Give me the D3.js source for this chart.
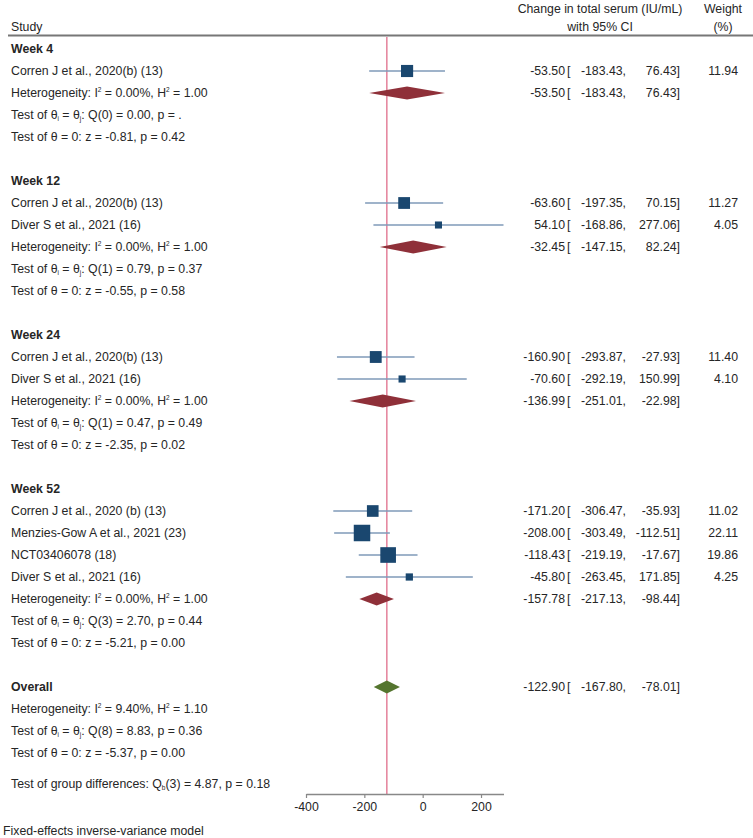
<!DOCTYPE html>
<html>
<head>
<meta charset="utf-8" />
<script src="https://cdn.jsdelivr.net/npm/d3@7"></script>
<style>
html, body { margin: 0; padding: 0; background: #fff; }
svg text { font-family: "Liberation Sans", Arial, sans-serif; font-size: 12.3px; fill: #262626; }
.bold { font-weight: bold; }
</style>
</head>
<body>
<div id="chart"></div>
<script>
// study level data
var groups = ["Week 4", "Week 12", "Week 24", "Week 52"];
var studyGroup = [0, 1, 1, 2, 2, 3, 3, 3, 3];
var studyLabels = ["Corren J et al., 2020(b) (13)",
  "Corren J et al., 2020(b) (13)", "Diver S et al., 2021 (16)",
  "Corren J et al., 2020(b) (13)", "Diver S et al., 2021 (16)",
  "Corren J et al., 2020 (b) (13)", "Menzies-Gow A et al., 2021 (23)", "NCT03406078 (18)", "Diver S et al., 2021 (16)"];
var est = [-53.50, -63.60, 54.10, -160.90, -70.60, -171.20, -208.00, -118.43, -45.80];
var lo = [-183.43, -197.35, -168.86, -293.87, -292.19, -306.47, -303.49, -219.19, -263.45];
var hi = [76.43, 70.15, 277.06, -27.93, 150.99, -35.93, -112.51, -17.67, 171.85];
var weight = [11.94, 11.27, 4.05, 11.40, 4.10, 11.02, 22.11, 19.86, 4.25];

// subgroup summaries
var sumEst = [-53.50, -32.45, -136.99, -157.78];
var sumLo = [-183.43, -147.15, -251.01, -217.13];
var sumHi = [76.43, 82.24, -22.98, -98.44];
var hetI2 = ["0.00%", "0.00%", "0.00%", "0.00%"];
var hetH2 = ["1.00", "1.00", "1.00", "1.00"];
var qTest = ["Q(0) = 0.00, p = .", "Q(1) = 0.79, p = 0.37", "Q(1) = 0.47, p = 0.49", "Q(3) = 2.70, p = 0.44"];
var zTest = ["z = -0.81, p = 0.42", "z = -0.55, p = 0.58", "z = -2.35, p = 0.02", "z = -5.21, p = 0.00"];

// overall
var overall = { est: -122.90, lo: -167.80, hi: -78.01, i2: "9.40%", h2: "1.10",
  q: "Q(8) = 8.83, p = 0.36", z: "z = -5.37, p = 0.00" };
var groupDiff = "(3) = 4.87, p = 0.18";

var xTicks = [-400, -200, 0, 200];

var width = 753, height = 838;
var svg = d3.select("#chart").append("svg")
  .attr("width", width).attr("height", height);

var x = d3.scaleLinear().domain([-400, 277.06]).range([306, 503.5]);
var sq = d3.scaleSqrt().domain([0, 22.11]).range([0, 16.5]);

var rowY = function(i) { return 49 + i * 22; };
var fmt = function(v) { return v.toFixed(2); };

// build rows
var rows = [];
var r = 0;
groups.forEach(function(g, gi) {
  rows.push({ type: "head", text: g, y: rowY(r++) });
  studyGroup.forEach(function(sg, si) {
    if (sg === gi) rows.push({ type: "study", i: si, y: rowY(r++) });
  });
  rows.push({ type: "het", i2: hetI2[gi], h2: hetH2[gi], y: rowY(r++), sum: gi });
  rows.push({ type: "q", text: qTest[gi], y: rowY(r++) });
  rows.push({ type: "z", text: zTest[gi], y: rowY(r++) });
  r++;
});
var overallY = rowY(r);
rows.push({ type: "head", text: "Overall", y: rowY(r++) });
rows.push({ type: "het", i2: overall.i2, h2: overall.h2, y: rowY(r++) });
rows.push({ type: "q", text: overall.q, y: rowY(r++) });
rows.push({ type: "z", text: overall.z, y: rowY(r++) });

// header
svg.append("text").attr("x", 11).attr("y", 27).attr("dy", "0.35em").text("Study");
svg.append("text").attr("x", 600).attr("y", 9).attr("dy", "0.35em").attr("text-anchor", "middle").text("Change in total serum (IU/mL)");
svg.append("text").attr("x", 600).attr("y", 27).attr("dy", "0.35em").attr("text-anchor", "middle").text("with 95% CI");
svg.append("text").attr("x", 723).attr("y", 9).attr("dy", "0.35em").attr("text-anchor", "middle").text("Weight");
svg.append("text").attr("x", 723).attr("y", 27).attr("dy", "0.35em").attr("text-anchor", "middle").text("(%)");
svg.append("line").attr("x1", 8).attr("x2", 753).attr("y1", 35.5).attr("y2", 35.5)
  .attr("stroke", "#777").attr("stroke-width", 2);

// reference line at overall effect
var axisY = 794;
svg.append("line").attr("x1", x(overall.est)).attr("x2", x(overall.est))
  .attr("y1", 37).attr("y2", axisY).attr("stroke", "#e4809a").attr("stroke-width", 1.5);

function ciText(y, e, l, h, w) {
  var g = svg.append("g");
  g.append("text").attr("x", 565).attr("y", y).attr("dy", "0.35em").attr("text-anchor", "end").text(fmt(e));
  g.append("text").attr("x", 567).attr("y", y).attr("dy", "0.35em").text("[");
  g.append("text").attr("x", 626).attr("y", y).attr("dy", "0.35em").attr("text-anchor", "end").text(fmt(l) + ",");
  g.append("text").attr("x", 680).attr("y", y).attr("dy", "0.35em").attr("text-anchor", "end").text(fmt(h) + "]");
  if (w != null) g.append("text").attr("x", 738).attr("y", y).attr("dy", "0.35em").attr("text-anchor", "end").text(fmt(w));
}

function diamond(y, l, e, h, col) {
  var hh = 6.5;
  svg.append("path")
    .attr("d", "M" + x(l) + "," + y + "L" + x(e) + "," + (y - hh) + "L" + x(h) + "," + y + "L" + x(e) + "," + (y + hh) + "Z")
    .attr("fill", col);
}

// small raised / lowered characters, shifted in px so the baseline comes back exactly
function small(t, txt, shift) {
  t.append("tspan").attr("font-size", "6.5px").attr("dy", shift).text(txt);
}

rows.forEach(function(d) {
  if (d.type === "head") {
    svg.append("text").attr("class", "bold").attr("x", 11).attr("y", d.y).attr("dy", "0.35em").text(d.text);
  } else if (d.type === "study") {
    var i = d.i;
    svg.append("text").attr("x", 11).attr("y", d.y).attr("dy", "0.35em").text(studyLabels[i]);
    svg.append("line").attr("x1", x(lo[i])).attr("x2", x(hi[i])).attr("y1", d.y).attr("y2", d.y)
      .attr("stroke", "#7f9ab8").attr("stroke-width", 1.6);
    var s = sq(weight[i]);
    svg.append("rect").attr("x", x(est[i]) - s / 2).attr("y", d.y - s / 2)
      .attr("width", s).attr("height", s).attr("fill", "#1a476f");
    ciText(d.y, est[i], lo[i], hi[i], weight[i]);
  } else if (d.type === "het") {
    var t = svg.append("text").attr("x", 11).attr("y", d.y + 4.3);
    t.append("tspan").text("Heterogeneity: I");
    small(t, "2", -5);
    t.append("tspan").attr("dy", 5).text(" = " + d.i2 + ", H");
    small(t, "2", -5);
    t.append("tspan").attr("dy", 5).text(" = " + d.h2);
    if (d.sum != null) {
      var gi = d.sum;
      diamond(d.y, sumLo[gi], sumEst[gi], sumHi[gi], "#8f3039");
      ciText(d.y, sumEst[gi], sumLo[gi], sumHi[gi], null);
    }
  } else if (d.type === "q") {
    var t2 = svg.append("text").attr("x", 11).attr("y", d.y + 4.3);
    t2.append("tspan").text("Test of θ");
    small(t2, "i", 2);
    t2.append("tspan").attr("dy", -2).text(" = θ");
    small(t2, "j", 2);
    t2.append("tspan").attr("dy", -2).text(": " + d.text);
  } else if (d.type === "z") {
    svg.append("text").attr("x", 11).attr("y", d.y).attr("dy", "0.35em").text("Test of θ = 0: " + d.text);
  }
});

// overall diamond
diamond(overallY, overall.lo, overall.est, overall.hi, "#55752f");
ciText(overallY, overall.est, overall.lo, overall.hi, null);

// group differences
var tg = svg.append("text").attr("x", 11).attr("y", 784 + 4.3);
tg.append("tspan").text("Test of group differences: Q");
small(tg, "b", 2);
tg.append("tspan").attr("dy", -2).text(groupDiff);

// x axis
var axis = svg.append("g").attr("transform", "translate(0," + axisY + ")")
  .call(d3.axisBottom(x).tickValues(xTicks).tickSize(4).tickSizeOuter(0).tickPadding(4)
    .tickFormat(function(d) { return String(d); }));
axis.select(".domain").attr("stroke", "#888").attr("stroke-width", 1.5);
axis.selectAll(".tick line").attr("stroke", "#888").attr("stroke-width", 1.2);
axis.selectAll(".tick text").style("font-size", "12.3px").style("font-family", "Liberation Sans, Arial, sans-serif").attr("fill", "#262626");

// footer
svg.append("text").attr("x", 3).attr("y", 831).attr("dy", "0.35em").text("Fixed-effects inverse-variance model");
</script>
</body>
</html>
